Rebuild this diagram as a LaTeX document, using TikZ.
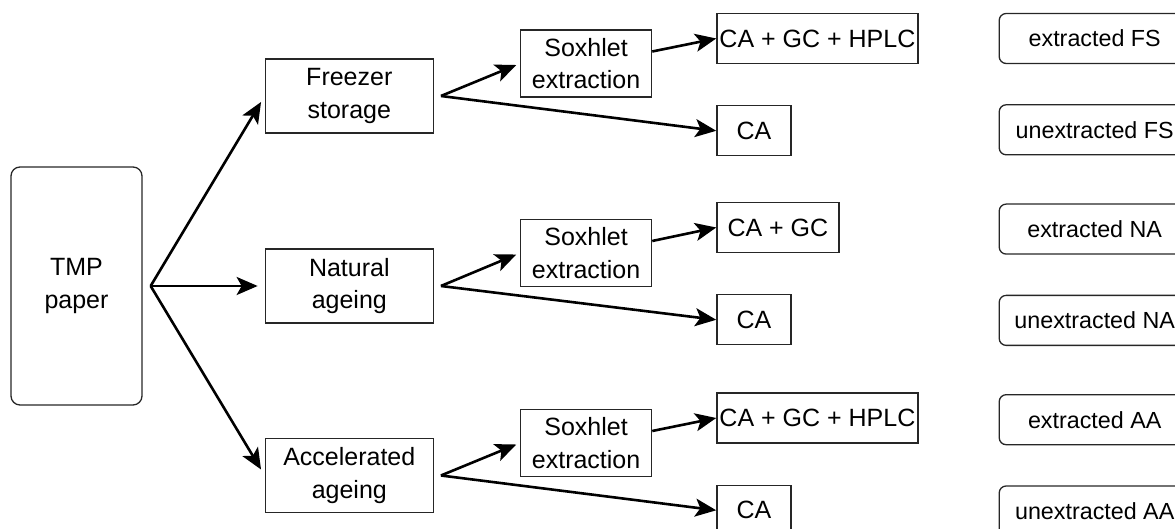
\documentclass[tikz,border=0pt]{standalone}
\usepackage{fontspec}
\setmainfont{Liberation Sans}
\usepackage{tikz}
\usetikzlibrary{arrows.meta, positioning}

\begin{document}
\begin{tikzpicture}[
    x=1pt, y=1pt,
    node distance=20pt,
    box/.style={rectangle, draw=black!85, line width=0.65pt, inner sep=1pt, align=center, font=\fontsize{12.5}{16.3}\selectfont},
    sample/.style={box, rounded corners=4.5pt, minimum width=65.5pt, minimum height=119pt},
    stage/.style={box, minimum width=84pt, minimum height=37pt},
    soxbox/.style={box, minimum width=65.5pt, minimum height=33.5pt},
    result/.style={box, inner xsep=0pt, minimum height=25pt},
    tag/.style={box, rounded corners=3.5pt, minimum width=95.5pt, minimum height=25pt, font=\fontsize{11.65}{14}\selectfont},
    flow/.style={line width=1.3pt, -{Stealth[length=10.5pt, width=9pt, inset=2.5pt]}},
]
    \useasboundingbox (0,0) rectangle (587.5,264.5);

    \node[sample] (tmp) at (38.25,121.5) {TMP\\paper};

    \node[stage, right=61pt of tmp, yshift=95pt] (fs) {Freezer\\storage};
    \node[stage, right=61pt of tmp] (na) {Natural\\ageing};
    \node[stage, right=61pt of tmp, yshift=-94.75pt] (aa) {Accelerated\\ageing};

    \node[soxbox, right=43pt of fs, yshift=16.25pt] (soxfs) {Soxhlet\\extraction};
    \node[soxbox, right=43pt of na, yshift=16.5pt] (soxna) {Soxhlet\\extraction};
    \node[soxbox, right=43pt of aa, yshift=16.25pt] (soxaa) {Soxhlet\\extraction};

    \node[result, minimum width=100.5pt, right=32pt of soxfs, yshift=12.5pt] (resfs) {CA + GC + HPLC};
    \node[result, minimum width=61pt, right=32pt of soxna, yshift=12.75pt] (resna) {CA + GC};
    \node[result, minimum width=100.5pt, right=32pt of soxaa, yshift=12.5pt] (resaa) {CA + GC + HPLC};

    \node[result, minimum width=37pt, below right=20.5pt and 0pt of resfs.south west] (cafs) {CA};
    \node[result, minimum width=37pt, below right=20.5pt and 0pt of resna.south west] (cana) {CA};
    \node[result, minimum width=37pt, below right=20.5pt and 0pt of resaa.south west] (caaa) {CA};

    \node[tag, right=40pt of resfs] (xfs) {extracted FS};
    \node[tag, below=of xfs] (ufs) {unextracted FS};
    \node[tag, below=24pt of ufs] (xna) {extracted NA};
    \node[tag, below=of xna] (una) {unextracted NA};
    \node[tag, below=24pt of una] (xaa) {extracted AA};
    \node[tag, below=of xaa] (uaa) {unextracted AA};

    \coordinate (ktmp) at ([xshift=4pt]tmp.east);
    \foreach \s in {fs, na, aa}
        \draw[flow, shorten >=3.5pt] (ktmp) -- (\s.west);
    \foreach \s in {fs, na, aa} {
        \coordinate (k\s) at ([xshift=3.5pt]\s.east);
        \draw[flow, shorten >=2pt] (k\s) -- (sox\s.west);
        \draw[flow] (k\s) -- (ca\s.west);
        \draw[flow] ([yshift=6pt]sox\s.east) -- (res\s.west);
    }
\end{tikzpicture}
\end{document}
